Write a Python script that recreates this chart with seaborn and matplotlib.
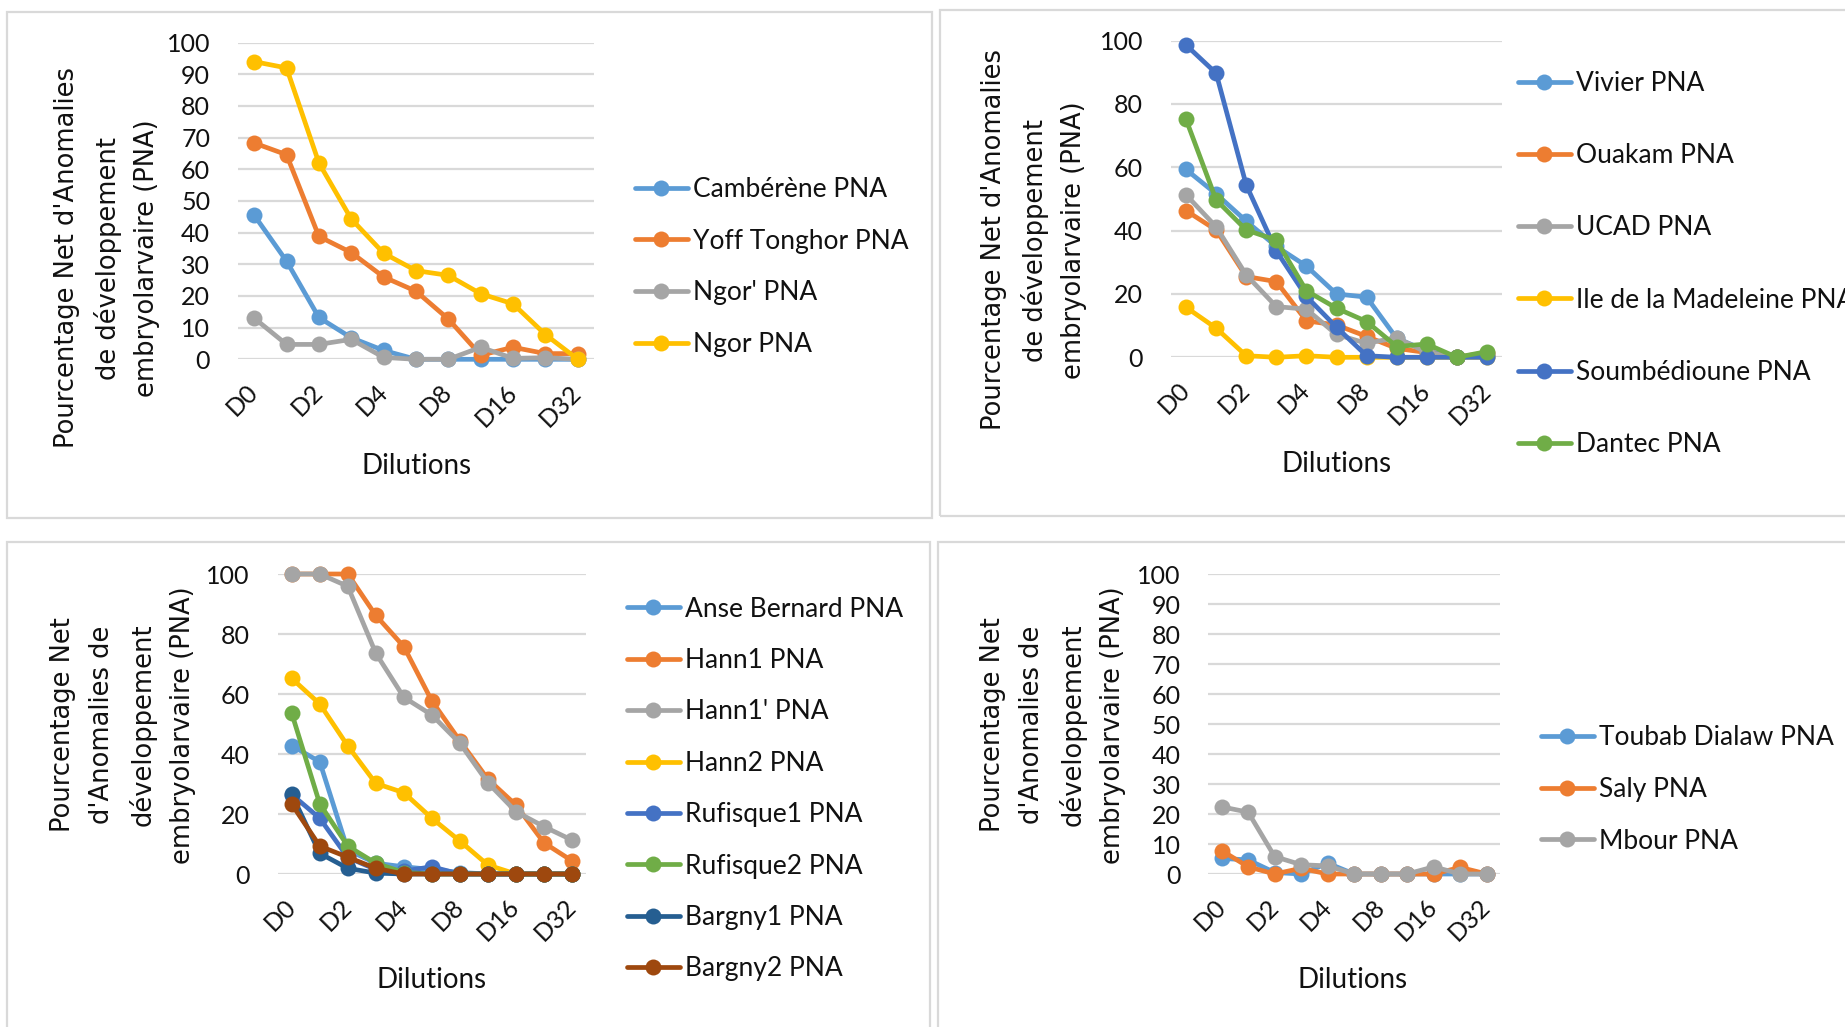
import numpy as np
import pandas as pd
import matplotlib
matplotlib.use("Agg")
import matplotlib.pyplot as plt
import seaborn as sns
from matplotlib.lines import Line2D
from matplotlib.patches import Rectangle

# ---------------- data ----------------
dilutions = ["D0", "D1", "D2", "D3", "D4", "D6", "D8", "D12", "D16", "D24", "D32"]
shown_ticks = ["D0", "D2", "D4", "D8", "D16", "D32"]

# Panel 1
p1_names = ["Cambérène PNA", "Yoff Tonghor PNA", "Ngor' PNA", "Ngor PNA"]
camberene = [45.5, 31, 13.2, 6.8, 2.8, 0, 0, 0, 0, 0, 0]
yoff_tonghor = [68.3, 64.6, 38.8, 33.7, 26, 21.5, 12.7, 1.3, 3.8, 1.8, 1.8]
ngor_prime = [13, 4.7, 4.7, 6.3, 0.6, 0, 0, 3.8, 0.3, 0.5, 0]
ngor = [94, 92, 62, 44.3, 33.5, 28, 26.5, 20.7, 17.5, 7.8, 0]

# Panel 2
p2_names = ["Vivier PNA", "Ouakam PNA", "UCAD PNA", "Ile de la Madeleine PNA",
            "Soumbédioune PNA", "Dantec PNA"]
vivier = [59.3, 51.6, 43, 35, 28.8, 20, 19, 6, 2, 0, 0.5]
ouakam = [46.3, 40.2, 25.5, 23.9, 11.5, 10.2, 6.6, 2.8, 1.5, 0, 1.5]
ucad = [51.3, 41.2, 26, 16, 15.2, 7.2, 4.4, 6.2, 1.5, 0, 1]
ile_madeleine = [15.8, 9.2, 0.5, 0, 0.5, 0, 0, 0, 0, 0, 0]
soumbedioune = [98.6, 89.7, 54.4, 33.6, 19.2, 9.5, 0.5, 0, 0, 0, 0]
dantec = [75.1, 49.7, 40.2, 37, 21, 15.5, 11.3, 3.4, 4.2, 0, 1.8]

# Panel 3
p3_names = ["Anse Bernard PNA", "Hann1 PNA", "Hann1' PNA", "Hann2 PNA",
            "Rufisque1 PNA", "Rufisque2 PNA", "Bargny1 PNA", "Bargny2 PNA"]
anse_bernard = [42.8, 37.4, 8, 3.6, 2.4, 1.5, 0.5, 0, 0, 0, 0]
hann1 = [100, 100, 100, 86.2, 75.8, 57.7, 44.4, 31.6, 23, 10.4, 4.4]
hann1_prime = [100, 100, 95.9, 73.6, 58.9, 53, 43.6, 30.4, 20.8, 15.8, 11.3]
hann2 = [65.2, 56.7, 42.7, 30.2, 27.1, 18.6, 11, 3, 0, 0, 0]
rufisque1 = [26.5, 18.6, 5.5, 1.5, 1, 2.4, 0, 0, 0, 0, 0]
rufisque2 = [53.6, 23.4, 9.3, 3.6, 0.5, 0, 0, 0, 0, 0, 0]
bargny1 = [26.6, 6.9, 1.9, 0.3, 0, 0, 0, 0, 0, 0, 0]
bargny2 = [23.3, 9.3, 5.6, 1.9, 0, 0, 0, 0, 0, 0, 0]

# Panel 4
p4_names = ["Toubab Dialaw PNA", "Saly PNA", "Mbour PNA"]
toubab_dialaw = [5.2, 4.7, 0.5, 0, 3.6, 0, 0, 0, 0, 0, 0]
saly = [7.8, 2.4, 0, 1.9, 0, 0, 0, 0, 0, 2.2, 0]
mbour = [22.4, 20.6, 5.8, 3.1, 2.7, 0, 0, 0, 2.4, 0, 0]

y_label_long = "Pourcentage Net d'Anomalies\nde développement\nembryolarvaire (PNA)"
y_label_short = "Pourcentage Net\nd'Anomalies de\ndéveloppement\nembryolarvaire (PNA)"
x_label = "Dilutions"

# ---------------- style ----------------
blue, orange, gray, yellow = "#5B9BD5", "#ED7D31", "#A5A5A5", "#FFC000"
dblue, green, navy, brown = "#4472C4", "#70AD47", "#255E91", "#9E480E"

sns.set_style("white")
plt.rcParams["font.family"] = ["Lato", "DejaVu Sans"]

W, H = 1845, 1027
fig = plt.figure(figsize=(W / 100, H / 100), dpi=100)


def rect(l, t, r, b):
    return [l / W, 1 - b / H, (r - l) / W, (b - t) / H]


# panel borders (Excel chart areas)
for (l, t, r, b) in [(7, 12, 932, 518), (940, 10, 1860, 516),
                     (7, 542, 930, 1040), (938, 542, 1860, 1040)]:
    fig.add_artist(Rectangle((l / W, 1 - b / H), (r - l) / W, (b - t) / H,
                             transform=fig.transFigure, fill=False,
                             edgecolor="#D9D9D9", linewidth=1.6))

panels = [
    dict(names=p1_names, series=[camberene, yoff_tonghor, ngor_prime, ngor],
         colors=[blue, orange, gray, yellow], ystep=10,
         rect=rect(238, 42.6, 594, 359.3), ylabel=y_label_long,
         ylab_xy=(107, 258), xlab_xy=(417, 466),
         leg_xy=(635, 267), leg_spacing=1.01),
    dict(names=p2_names, series=[vivier, ouakam, ucad, ile_madeleine, soumbedioune, dantec],
         colors=[blue, orange, gray, yellow, dblue, green], ystep=20,
         rect=rect(1171, 40.6, 1502, 357.3), ylabel=y_label_long,
         ylab_xy=(1034, 240), xlab_xy=(1337, 464),
         leg_xy=(1518, 264), leg_spacing=1.79),
    dict(names=p3_names, series=[anse_bernard, hann1, hann1_prime, hann2,
                                 rufisque1, rufisque2, bargny1, bargny2],
         colors=[blue, orange, gray, yellow, dblue, green, navy, brown], ystep=20,
         rect=rect(277.7, 574, 586, 874), ylabel=y_label_short,
         ylab_xy=(123, 725), xlab_xy=(432, 980),
         leg_xy=(627, 789), leg_spacing=1.0),
    dict(names=p4_names, series=[toubab_dialaw, saly, mbour],
         colors=[blue, orange, gray], ystep=10,
         rect=rect(1208.4, 574, 1500, 874), ylabel=y_label_short,
         ylab_xy=(1053, 725), xlab_xy=(1353, 980),
         leg_xy=(1541, 789.5), leg_spacing=1.01),
]

for p in panels:
    ax = fig.add_axes(p["rect"])
    frames = []
    for name, vals in zip(p["names"], p["series"]):
        frames.append(pd.DataFrame({"Dilution": dilutions, "Valeur": vals, "Site": name}))
    df = pd.concat(frames, ignore_index=True)
    palette = dict(zip(p["names"], p["colors"]))
    sns.lineplot(data=df, x="Dilution", y="Valeur", hue="Site", hue_order=p["names"],
                 palette=palette, sort=False, marker="o", markersize=11.5,
                 markeredgewidth=0, linewidth=3.4, legend=False, ax=ax,
                 clip_on=False, zorder=3)

    ax.set_xlim(-0.5, len(dilutions) - 0.5)
    ax.set_ylim(0, 100)
    ax.set_yticks(np.arange(0, 101, p["ystep"]))
    ax.yaxis.grid(True, color="#D9D9D9", linewidth=1.6)
    ax.xaxis.grid(False)
    ax.set_axisbelow(True)
    for s in ax.spines.values():
        s.set_visible(False)
    ax.set_xticks(range(0, len(dilutions), 2))
    ax.set_xticklabels(shown_ticks, rotation=45, ha="right", va="center",
                       rotation_mode="anchor")
    ax.tick_params(axis="x", length=0, pad=21, labelsize=18)
    ax.tick_params(axis="y", length=0, pad=20, labelsize=18)
    for lab in ax.get_yticklabels() + ax.get_xticklabels():
        lab.set_color("#111111")

    ax.set_xlabel(x_label, fontsize=20, color="#111111")
    ax.xaxis.set_label_coords(p["xlab_xy"][0] / W, 1 - p["xlab_xy"][1] / H,
                              transform=fig.transFigure)
    ax.xaxis.label.set_va("center")

    ax.set_ylabel(p["ylabel"], fontsize=18.5, family="DejaVu Sans",
                  linespacing=1.64, color="#111111")
    ax.yaxis.set_label_coords(p["ylab_xy"][0] / W, 1 - p["ylab_xy"][1] / H,
                              transform=fig.transFigure)
    ax.yaxis.label.set_va("center")
    ax.yaxis.label.set_multialignment("center")

    handles = [Line2D([0], [0], color=c, lw=3.4, marker="o", markersize=11.5,
                      markeredgewidth=0) for c in p["colors"]]
    ax.legend(handles, p["names"], loc="center left",
              bbox_to_anchor=(p["leg_xy"][0] / W, 1 - p["leg_xy"][1] / H),
              bbox_transform=fig.transFigure, frameon=False, fontsize=19,
              handlelength=2.0, handletextpad=0.2, labelspacing=p["leg_spacing"],
              borderpad=0, borderaxespad=0, labelcolor="#111111")

fig.savefig("out.png", dpi=100)
